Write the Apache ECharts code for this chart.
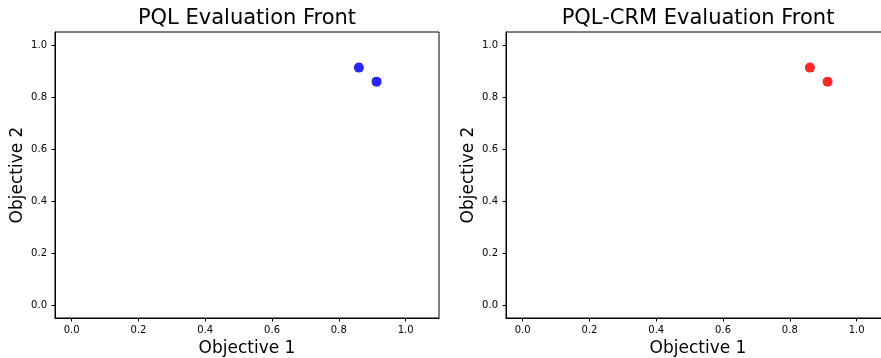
<!DOCTYPE html>
<html>
<head>
<meta charset="utf-8">
<script src="https://cdn.jsdelivr.net/npm/echarts@6/dist/echarts.min.js"></script>
<style>
html,body{margin:0;padding:0;background:#fff;}
#chart{width:881px;height:358px;}
</style>
</head>
<body>
<div id="chart"></div>
<script>
const titles = ['PQL Evaluation Front', 'PQL-CRM Evaluation Front'];
const xName = 'Objective 1';
const yName = 'Objective 2';
const tickValues = [0, 0.2, 0.4, 0.6, 0.8, 1.0];
const pqlPoints = [[0.860, 0.913], [0.913, 0.859]];
const crmPoints = [[0.860, 0.913], [0.913, 0.859]];
const colors = ['rgb(38,38,255)', 'rgb(255,38,38)'];

const FONT = 'DejaVu Sans';
const grids = [
  {left: 55, top: 32, width: 384, height: 286},
  {left: 506, top: 32, width: 384, height: 286}
];
const titleCenters = [247, 698];

function xAxis(i) {
  return {
    gridIndex: i, type: 'value', min: -0.05, max: 1.1,
    name: xName, nameLocation: 'middle', nameGap: 20,
    nameTextStyle: {fontFamily: FONT, fontSize: 17, color: '#000'},
    axisLine: {show: true, onZero: false, lineStyle: {color: '#000', width: 1}},
    axisTick: {show: true, inside: false, length: 3.5, customValues: tickValues, lineStyle: {color: '#000'}},
    axisLabel: {customValues: tickValues, margin: 7, fontFamily: FONT, fontSize: 10, color: '#000',
      formatter: v => v.toFixed(1)},
    splitLine: {show: false}
  };
}
function yAxis(i) {
  return {
    gridIndex: i, type: 'value', min: -0.05, max: 1.05,
    name: yName, nameLocation: 'middle', nameGap: 29,
    nameTextStyle: {fontFamily: FONT, fontSize: 17, color: '#000'},
    axisLine: {show: true, onZero: false, lineStyle: {color: '#000', width: 1}},
    axisTick: {show: true, inside: false, length: 3.5, customValues: tickValues, lineStyle: {color: '#000'}},
    axisLabel: {customValues: tickValues, margin: 8, fontFamily: FONT, fontSize: 10, color: '#000',
      formatter: v => v.toFixed(1)},
    splitLine: {show: false}
  };
}

const chart = echarts.init(document.getElementById('chart'), null, {renderer: 'canvas'});
chart.setOption({
  animation: false,
  backgroundColor: '#fff',
  title: titles.map((t, i) => ({
    text: t, left: titleCenters[i], top: 8, padding: 0, textAlign: 'center',
    textStyle: {fontFamily: FONT, fontSize: 21, fontWeight: 'normal', color: '#000'}
  })),
  grid: grids.map(g => Object.assign({show: true, borderColor: '#000', borderWidth: 1,
    backgroundColor: 'transparent', containLabel: false, outerBoundsMode: 'none'}, g)),
  xAxis: [xAxis(0), xAxis(1)],
  yAxis: [yAxis(0), yAxis(1)],
  series: [
    {type: 'scatter', xAxisIndex: 0, yAxisIndex: 0, data: pqlPoints, symbolSize: 10,
     itemStyle: {color: colors[0], opacity: 1}},
    {type: 'scatter', xAxisIndex: 1, yAxisIndex: 1, data: crmPoints, symbolSize: 10,
     itemStyle: {color: colors[1], opacity: 1}}
  ]
});
</script>
</body>
</html>
